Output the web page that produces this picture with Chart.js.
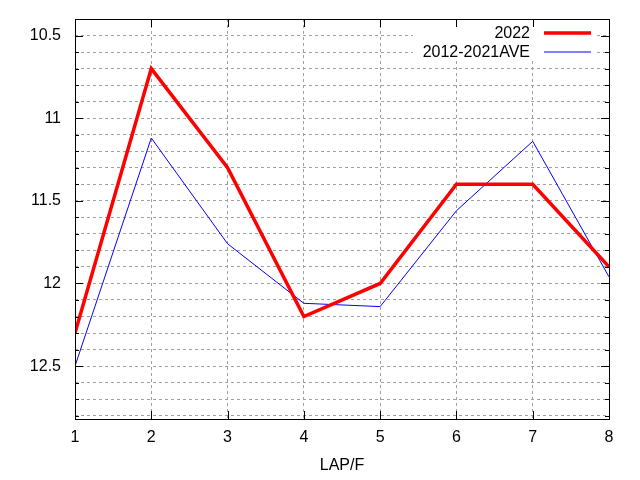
<!DOCTYPE html>
<html>
<head>
<meta charset="utf-8">
<script src="https://cdn.jsdelivr.net/npm/chart.js@4"></script>
<style>
  html, body { margin: 0; padding: 0; background: #fff; }
  #wrap { width: 640px; height: 480px; }
</style>
</head>
<body>
<div id="wrap"><canvas id="chart"></canvas></div>
<script>
// data
const laps = [1, 2, 3, 4, 5, 6, 7, 8];
const times2022 = [12.3, 10.7, 11.3, 12.2, 12.0, 11.4, 11.4, 11.9];
const timesAve = [12.5, 11.12, 11.76, 12.12, 12.14, 11.56, 11.14, 11.96];
const yTicks = [10.4, 10.5, 10.6, 10.7, 10.8, 10.9, 11, 11.1, 11.2, 11.3, 11.4, 11.5,
  11.6, 11.7, 11.8, 11.9, 12, 12.1, 12.2, 12.3, 12.4, 12.5, 12.6, 12.7, 12.8];
const yLabels = [10.5, 11, 11.5, 12, 12.5];

const FONT = { family: "'Liberation Sans', Arial, sans-serif", size: 16 };

// gnuplot style frame, mirrored tics and opaque key (text left of the line sample)
const framePlugin = {
  id: "frame",
  beforeDatasetsDraw(chart) {
    // key box blanks the grid behind it
    const { ctx, chartArea: a } = chart;
    ctx.save();
    ctx.fillStyle = "#fff";
    ctx.fillRect(a.right - 196, a.top, 184, 42);
    ctx.restore();
  },
  afterDraw(chart) {
    const { ctx, chartArea: a, scales } = chart;
    ctx.save();
    ctx.setLineDash([]);
    ctx.strokeStyle = "#000";
    ctx.lineWidth = 1;
    ctx.beginPath();
    yTicks.forEach((v) => {
      const y = Math.round(scales.y.getPixelForValue(v)) + 0.5;
      const len = yLabels.includes(v) ? 8 : 4;
      ctx.moveTo(a.right - len, y);
      ctx.lineTo(a.right, y);
      ctx.moveTo(a.left, y);
      ctx.lineTo(a.left + len, y);
    });
    laps.forEach((v) => {
      const x = Math.round(scales.x.getPixelForValue(v)) + 0.5;
      ctx.moveTo(x, a.top);
      ctx.lineTo(x, a.top + 8);
      ctx.moveTo(x, a.bottom);
      ctx.lineTo(x, a.bottom - 8);
    });
    ctx.stroke();
    ctx.strokeRect(Math.round(a.left) + 0.5, Math.round(a.top) + 0.5,
      Math.round(a.right - a.left), Math.round(a.bottom - a.top));

    // key
    ctx.font = FONT.size + "px " + FONT.family;
    ctx.textAlign = "right";
    ctx.textBaseline = "middle";
    chart.data.datasets.forEach((ds, i) => {
      const y = a.top + 14 + i * 19;
      ctx.fillStyle = "#000";
      ctx.fillText(ds.label, a.right - 79, y + 1);
      ctx.strokeStyle = ds.borderColor;
      ctx.lineWidth = ds.borderWidth;
      ctx.beginPath();
      ctx.moveTo(a.right - 65, y);
      ctx.lineTo(a.right - 18, y);
      ctx.stroke();
    });
    ctx.restore();
  },
};

new Chart(document.getElementById("chart"), {
  type: "line",
  data: {
    datasets: [
      {
        label: "2022",
        data: laps.map((x, i) => ({ x: x, y: times2022[i] })),
        borderColor: "#ff0000",
        borderWidth: 3.5,
        pointRadius: 0,
        tension: 0,
      },
      {
        label: "2012-2021AVE",
        data: laps.map((x, i) => ({ x: x, y: timesAve[i] })),
        borderColor: "#0000ff",
        borderWidth: 1,
        pointRadius: 0,
        tension: 0,
      },
    ],
  },
  options: {
    responsive: true,
    maintainAspectRatio: false,
    animation: false,
    layout: { padding: { top: 19, right: 31, left: 0, bottom: 0 } },
    plugins: {
      legend: { display: false },
      tooltip: { enabled: false },
    },
    scales: {
      x: {
        type: "linear",
        min: 1,
        max: 8,
        afterBuildTicks: (axis) => {
          axis.ticks = laps.map((v) => ({ value: v }));
        },
        afterFit: (axis) => {
          axis.height = 61;
        },
        ticks: {
          color: "#000",
          font: FONT,
          padding: 9,
          maxRotation: 0,
        },
        grid: {
          color: "#a0a0a0",
          drawTicks: false,
        },
        border: { display: false, dash: [3, 3] },
        title: {
          display: true,
          text: "LAP/F",
          color: "#000",
          font: FONT,
          padding: { top: 0, bottom: 5 },
        },
      },
      y: {
        type: "linear",
        reverse: true,
        min: 10.4,
        max: 12.82,
        afterBuildTicks: (axis) => {
          axis.ticks = yTicks.map((v) => ({ value: v }));
        },
        afterFit: (axis) => {
          axis.width = 75;
          axis.paddingTop = 0;
          axis.paddingBottom = 0;
        },
        ticks: {
          color: "#000",
          font: FONT,
          padding: 14,
          autoSkip: false,
          callback: (v) => (yLabels.includes(v) ? String(v) : ""),
        },
        grid: {
          color: "#a0a0a0",
          drawTicks: false,
        },
        border: { display: false, dash: [3, 3] },
      },
    },
  },
  plugins: [framePlugin],
});
</script>
</body>
</html>
